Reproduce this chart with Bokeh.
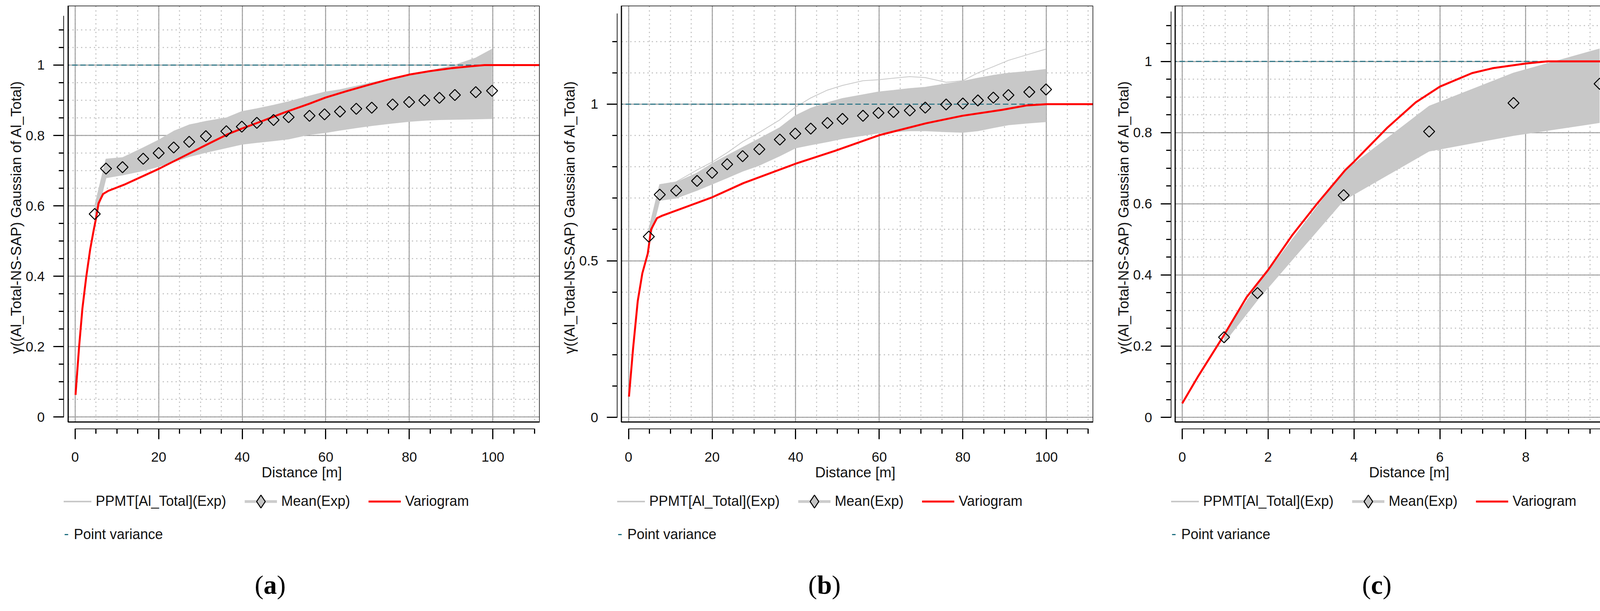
import numpy as np
from bokeh.plotting import figure
from bokeh.layouts import row, column
from bokeh.models import (Range1d, SingleIntervalTicker, CustomJSTickFormatter, BoxAnnotation,
                          Legend, LegendItem, ColumnDataSource, Div)
from bokeh.embed import file_html
from bokeh.resources import INLINE

FONT = "Liberation Sans"
SERIF = "Liberation Serif"

# ---------------- data ----------------
sill = 1.0

# panel (a)
lags_a = [4.7, 7.4, 11.35, 16.3, 20.0, 23.6, 27.3, 31.3, 36.2, 39.9, 43.5, 47.5, 51.1,
          56.1, 59.7, 63.4, 67.3, 71.0, 76.0, 79.95, 83.6, 87.2, 90.9, 95.9, 99.8]
mean_a = [0.577, 0.706, 0.710, 0.734, 0.750, 0.766, 0.782, 0.798, 0.812, 0.825, 0.836, 0.844, 0.852,
          0.856, 0.860, 0.868, 0.876, 0.879, 0.888, 0.895, 0.900, 0.907, 0.915, 0.923, 0.927]
sim_hi_a = [0.600, 0.733, 0.737, 0.765, 0.787, 0.812, 0.830, 0.840, 0.850, 0.868, 0.876, 0.886, 0.896,
            0.912, 0.923, 0.930, 0.940, 0.950, 0.962, 0.971, 0.980, 0.990, 1.000, 1.020, 1.045]
sim_lo_a = [0.550, 0.680, 0.688, 0.700, 0.712, 0.725, 0.740, 0.752, 0.765, 0.775, 0.780, 0.785, 0.790,
            0.803, 0.808, 0.815, 0.822, 0.828, 0.835, 0.840, 0.843, 0.845, 0.846, 0.847, 0.848]
model_x_a = [0.1, 0.95, 1.75, 2.65, 3.6, 4.4, 5.0, 5.6, 6.7, 8.0, 11.7, 20, 25, 30, 36.6, 40, 45,
             50, 56, 60, 65, 70, 75, 80, 85, 90, 95, 98, 100, 111.2]
model_y_a = [0.063, 0.199, 0.309, 0.397, 0.476, 0.528, 0.564, 0.607, 0.634, 0.643, 0.660, 0.705,
             0.735, 0.765, 0.804, 0.820, 0.842, 0.865, 0.890, 0.908, 0.926, 0.943, 0.959, 0.973,
             0.983, 0.991, 0.997, 1.0, 1.0, 1.0]

# panel (b)
lags_b = [4.85, 7.47, 11.4, 16.4, 20.0, 23.6, 27.3, 31.3, 36.2, 39.9, 43.6, 47.6, 51.2,
          56.1, 59.8, 63.4, 67.3, 71.0, 76.0, 80.0, 83.6, 87.3, 90.9, 95.9, 99.9]
mean_b = [0.577, 0.711, 0.724, 0.755, 0.781, 0.808, 0.834, 0.856, 0.887, 0.906, 0.922, 0.940, 0.953,
          0.963, 0.972, 0.975, 0.980, 0.989, 0.999, 1.002, 1.012, 1.021, 1.029, 1.039, 1.047]
sim_hi_b = [0.600, 0.743, 0.750, 0.780, 0.810, 0.836, 0.862, 0.890, 0.925, 0.963, 0.987, 1.005, 1.018,
            1.030, 1.039, 1.044, 1.050, 1.054, 1.065, 1.073, 1.083, 1.092, 1.099, 1.105, 1.111]
sim_lo_b = [0.555, 0.693, 0.700, 0.725, 0.745, 0.765, 0.786, 0.805, 0.835, 0.860, 0.870, 0.880, 0.890,
            0.900, 0.908, 0.912, 0.915, 0.915, 0.912, 0.910, 0.915, 0.925, 0.934, 0.940, 0.944]
sim_out_b = [0.600, 0.743, 0.752, 0.790, 0.815, 0.845, 0.880, 0.910, 0.950, 0.990, 1.020, 1.045, 1.060,
             1.075, 1.078, 1.083, 1.088, 1.085, 1.070, 1.075, 1.100, 1.120, 1.140, 1.160, 1.176]
model_x_b = [0.1, 1.1, 2.2, 3.3, 4.6, 5.4, 6.8, 7.9, 20, 27.5, 40, 49.4, 60, 71.2, 79.9, 89.4,
             95.2, 100, 111.2]
model_y_b = [0.066, 0.222, 0.371, 0.460, 0.523, 0.600, 0.636, 0.643, 0.7025, 0.748, 0.810, 0.851,
             0.901, 0.939, 0.963, 0.982, 0.996, 1.0, 1.0]

# panel (c)
lags_c = [0.975, 1.753, 3.76, 5.75, 7.715, 9.72]
mean_c = [0.225, 0.349, 0.624, 0.803, 0.883, 0.937]
sim_hi_c = [0.235, 0.370, 0.690, 0.874, 0.967, 1.035]
sim_lo_c = [0.210, 0.330, 0.610, 0.748, 0.792, 0.828]
model_x_c = [0.0, 0.36, 0.93, 1.5, 2.0, 2.57, 3.14, 3.8, 4.0, 4.78, 5.44, 6.0, 6.75, 7.24, 8.0,
             8.5, 10.83]
model_y_c = [0.039, 0.113, 0.2225, 0.3375, 0.414, 0.513, 0.600, 0.695, 0.718, 0.814, 0.885,
             0.929, 0.967, 0.981, 0.994, 1.0, 1.0]

x_label = "Distance [m]"
y_label = "\u03b3((Al_Total-NS-SAP) Gaussian of Al_Total)"
legend_labels = ["PPMT[Al_Total](Exp)", "Mean(Exp)", "Variogram", "Point variance"]
captions = ["a", "b", "c"]

SIM_COLOR = "#c8c8c8"
RED = "#ff0000"
TEAL = "#1e6e80"
TXT = "#111111"

MAIN_H = 1258      # page 8 .. 1266, frame bottom at 1104
LEG_H = 202        # page 1266 .. 1468
CAP_H = 79         # page 1468 .. 1547


def panel(width, b_left, b_right, xr, yr, box_left, box_bottom, xint, xminor, yint, yminor,
          xbounds, ybounds, lags, mean, lo, hi, extra, mx, my, letter, cap_left):
    p = figure(width=width, height=MAIN_H, output_backend="svg", toolbar_location=None,
               x_range=Range1d(*xr), y_range=Range1d(*yr),
               min_border_left=b_left, min_border_right=b_right,
               min_border_top=14, min_border_bottom=MAIN_H + 8 - 1104)
    p.outline_line_color = None
    p.background_fill_color = "white"
    p.border_fill_color = "white"

    xt = SingleIntervalTicker(interval=xint, num_minor_ticks=xminor)
    yt = SingleIntervalTicker(interval=yint, num_minor_ticks=yminor)
    p.xaxis.ticker = xt
    p.yaxis.ticker = yt
    p.xgrid.ticker = xt
    p.ygrid.ticker = yt
    fmt = CustomJSTickFormatter(code="return String(Math.round(tick*1000)/1000);")
    for ax in (p.xaxis[0], p.yaxis[0]):
        ax.formatter = fmt
        ax.axis_line_width = 3
        ax.axis_line_color = "black"
        ax.major_tick_line_width = 3
        ax.minor_tick_line_width = 3
        ax.major_tick_line_color = "black"
        ax.minor_tick_line_color = "black"
        ax.major_tick_in = 0
        ax.minor_tick_in = 0
        ax.major_tick_out = 27
        ax.minor_tick_out = 13
        ax.major_label_text_font = FONT
        ax.major_label_text_font_size = "35px"
        ax.major_label_text_color = TXT
        ax.axis_label_text_font = FONT
        ax.axis_label_text_font_size = "37px"
        ax.axis_label_text_font_style = "normal"
        ax.axis_label_text_color = TXT
    p.xaxis.bounds = xbounds
    p.yaxis.bounds = ybounds
    p.xaxis.axis_label = x_label
    p.yaxis.axis_label = y_label
    p.xaxis.major_label_standoff = 33
    p.xaxis.axis_label_standoff = 4
    p.yaxis.major_label_standoff = 22
    p.yaxis.axis_label_standoff = 1

    for g in (p.xgrid[0], p.ygrid[0]):
        g.grid_line_color = "#a0a0a0"
        g.grid_line_width = 2.5
        g.minor_grid_line_color = "#b8b8b8"
        g.minor_grid_line_width = 2.5
        g.minor_grid_line_dash = "3 8"

    # simulated experimental variograms (band of PPMT realisations)
    p.varea(x=lags, y1=lo, y2=hi, fill_color=SIM_COLOR, fill_alpha=1.0)
    p.line(lags, lo, line_color=SIM_COLOR, line_width=2)
    p.line(lags, hi, line_color=SIM_COLOR, line_width=2)
    for e in extra:
        p.line(lags, e, line_color=SIM_COLOR, line_width=2)
    # point variance
    p.line([xr[0], xr[1]], [sill, sill], line_color=TEAL, line_width=2.5, line_dash="14 7")
    # variogram model
    p.line(mx, my, line_color=RED, line_width=5)
    # mean experimental
    p.scatter(lags, mean, marker="square", angle=np.pi / 4, size=20, fill_alpha=0,
              line_color="black", line_width=2.5)

    # frame box (offset from axes)
    p.add_layout(BoxAnnotation(right=box_left, fill_color="white", fill_alpha=1, line_alpha=0,
                               level="overlay"))
    p.add_layout(BoxAnnotation(top=box_bottom, fill_color="white", fill_alpha=1, line_alpha=0,
                               level="overlay"))
    p.add_layout(BoxAnnotation(left=box_left, bottom=box_bottom, fill_alpha=0, line_color="black",
                               line_width=3, line_alpha=1, level="overlay"))

    # ---------- legend strip ----------
    lf = figure(width=width, height=LEG_H, output_backend="svg", toolbar_location=None,
                x_axis_type=None, y_axis_type=None, min_border=0,
                x_range=Range1d(0, 1), y_range=Range1d(0, 1))
    lf.outline_line_color = None
    lf.background_fill_color = "white"
    lf.border_fill_color = "white"

    def src():
        return ColumnDataSource(dict(x=np.array([np.nan]), y=np.array([np.nan])))

    r_sim = lf.line(x="x", y="y", source=src(), line_color=SIM_COLOR, line_width=4)
    r_mline = lf.line(x="x", y="y", source=src(), line_color="#cccccc", line_width=7)
    r_mpt = lf.scatter(x="x", y="y", source=src(), marker="diamond", size=30,
                       fill_color="#c4c4c4", line_color="black", line_width=2.5)
    r_var = lf.line(x="x", y="y", source=src(), line_color=RED, line_width=5)
    r_pv = lf.line(x="x", y="y", source=src(), line_color=TEAL, line_width=3,
                   line_dash="9 5 9 40")

    common = dict(padding=0, margin=0, border_line_alpha=0, background_fill_alpha=0,
                  label_text_font=FONT, label_text_font_size="36px", label_text_color=TXT,
                  label_height=40, orientation="horizontal")
    leg1 = Legend(items=[LegendItem(label=legend_labels[0], renderers=[r_sim]),
                         LegendItem(label=legend_labels[1], renderers=[r_mline, r_mpt]),
                         LegendItem(label=legend_labels[2], renderers=[r_var])],
                  location=(-12, 1468 - (1290 + 42.5)), glyph_width=83, glyph_height=85,
                  label_standoff=11, spacing=47, **common)
    leg2 = Legend(items=[LegendItem(label=legend_labels[3], renderers=[r_pv])],
                  location=(-12, 1468 - (1375 + 20.5)), glyph_width=27, glyph_height=40,
                  label_standoff=11, **common)
    lf.add_layout(leg1)
    lf.add_layout(leg2)

    cap = Div(text=('<span style="display:inline-block;position:relative;top:-3px;'
                    'margin-left:%dpx">(<b>%s</b>)</span>' % (cap_left, letter)),
              width=width, height=CAP_H, margin=0,
              styles={"font-family": SERIF, "font-size": "68px", "line-height": "79px",
                      "color": "black", "white-space": "nowrap"})
    return column(p, lf, cap, spacing=0)


pa = panel(1409, 163, 28, (-2.69, 111.19), (-0.0328, 1.1688), -1.66, -0.0139,
           20, 4, 0.2, 4, (0, 110), (0, 1.14), lags_a, mean_a, sim_lo_a, sim_hi_a, [],
           model_x_a, model_y_a, captions[0], 652)
pb = panel(1417, 171, 28, (-2.67, 111.18), (-0.0362, 1.3146), -1.70, -0.015,
           20, 4, 0.5, 5, (0, 110), (0, 1.29), lags_b, mean_b, sim_lo_b, sim_hi_b, [sim_out_b],
           model_x_b, model_y_b, captions[1], 660)
pc = panel(1409, 172, 19, (-0.254, 10.825), (-0.0318, 1.1565), -0.164, -0.0132,
           2, 4, 0.2, 4, (0, 10.67), (0, 1.14), lags_c, mean_c, sim_lo_c, sim_hi_c, [],
           model_x_c, model_y_c, captions[2], 661)

layout = row(pa, pb, pc, spacing=0)
open("out.html", "w").write(file_html(layout, INLINE))
